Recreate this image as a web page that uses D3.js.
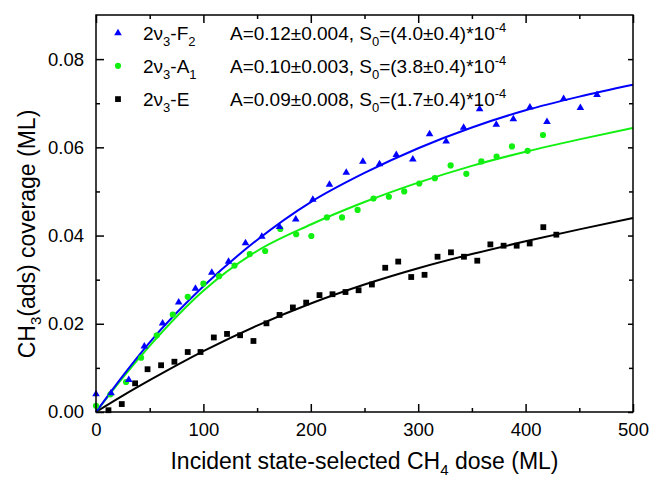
<!DOCTYPE html>
<html>
<head>
<meta charset="utf-8">
<script src="https://cdn.jsdelivr.net/npm/d3@7"></script>
<style>
  body { margin: 0; background: #fff; }
  svg { font-family: "Liberation Sans", Arial, sans-serif; }
</style>
</head>
<body>
<svg id="chart"></svg>
<script>
// Measured data: dose (ML) and CH3 coverage (ML) for each vibrational state
const f2Dose = [0, 14, 30.5, 45, 62, 77, 92.6, 107.8, 123.4, 139.2, 154.4, 170.9, 186, 201.9, 217.4, 233, 248.5, 264, 279.6, 295, 310.6, 326, 342.3, 357.2, 372.7, 388.6, 404, 419.9, 435.4, 451, 466.5];
const f2Cov = [0.0042, 0.0044, 0.0074, 0.015, 0.0202, 0.025, 0.0281, 0.0317, 0.0342, 0.0384, 0.0399, 0.0421, 0.0438, 0.0483, 0.0517, 0.0544, 0.0569, 0.0563, 0.0584, 0.0574, 0.0631, 0.0615, 0.0646, 0.0688, 0.0653, 0.0665, 0.0692, 0.0659, 0.0711, 0.0691, 0.072];

const a1Dose = [0, 13.4, 28, 42, 56.6, 71.5, 85.4, 100, 114.6, 129, 143.2, 157.5, 171.6, 186.4, 200.5, 215, 229.1, 243.6, 258.4, 272.7, 287, 301, 315.5, 330.2, 344.8, 358.8, 373, 387.3, 401.9, 416.2];
const a1Cov = [0.0014, 0.004, 0.0068, 0.0123, 0.0174, 0.0221, 0.0261, 0.0291, 0.0308, 0.0332, 0.0358, 0.0365, 0.0415, 0.0403, 0.0399, 0.0441, 0.0441, 0.0458, 0.0484, 0.0488, 0.05, 0.0518, 0.053, 0.0559, 0.054, 0.0568, 0.0579, 0.0602, 0.0592, 0.0628];

const eDose = [11.6, 24, 36.4, 48, 60.6, 73, 85.4, 97.3, 109.7, 122, 134.2, 146.6, 158.7, 170.9, 183.3, 195.7, 208.1, 220.2, 232.3, 244.5, 256.9, 269.3, 281.4, 293.5, 305.9, 318, 330.5, 342.6, 355, 367.2, 379.5, 391.7, 403.8, 416.5, 428.6];
const eCov = [0.0004, 0.0018, 0.0065, 0.0097, 0.0106, 0.0114, 0.0136, 0.0136, 0.0169, 0.0177, 0.0174, 0.0161, 0.0201, 0.022, 0.0237, 0.0248, 0.0265, 0.0267, 0.0272, 0.0276, 0.0289, 0.0327, 0.0341, 0.0306, 0.0311, 0.0352, 0.0362, 0.0352, 0.0343, 0.038, 0.0377, 0.0377, 0.0382, 0.0419, 0.0402];

// Fit curves
const fitDose = [0, 25, 50, 100, 150, 200, 250, 300, 350, 400, 450, 500];
const f2Fit = [0, 0.0082, 0.0158, 0.0285, 0.039, 0.0476, 0.0542, 0.0598, 0.0645, 0.0684, 0.0715, 0.0742];
const a1Fit = [0, 0.0078, 0.015, 0.0275, 0.0365, 0.0425, 0.0476, 0.052, 0.0558, 0.059, 0.0618, 0.0644];
const eFit = [0, 0.0037, 0.0072, 0.0138, 0.0196, 0.0246, 0.0289, 0.0326, 0.0358, 0.0387, 0.0414, 0.044];

// Axis ticks
const xMajor = [0, 100, 200, 300, 400, 500];
const xMinor = [50, 150, 250, 350, 450];
const yMajor = [0, 0.02, 0.04, 0.06, 0.08];
const yMinor = [0.01, 0.03, 0.05, 0.07];

const width = 651;
const height = 479;
const margin = { top: 15, right: 18, bottom: 67, left: 96 };
const w = width - margin.left - margin.right;
const h = height - margin.top - margin.bottom;

const green = "#11f011";

const svg = d3.select("#chart").attr("width", width).attr("height", height);
const g = svg.append("g").attr("transform", `translate(${margin.left},${margin.top})`);

const x = d3.scaleLinear().domain([0, 500]).range([0, w]);
const y = d3.scaleLinear().domain([0, 0.09]).range([h, 0]);

// Axes: ticks point inwards on all four sides
function styleAxis(sel) {
  sel.select(".domain").remove();
  sel.selectAll(".tick line").attr("stroke", "#000").attr("stroke-width", 1.5);
  sel.selectAll(".tick text").attr("font-size", 18.5).attr("fill", "#000")
    .attr("font-family", '"Liberation Sans", Arial, sans-serif');
}

g.append("g").attr("transform", `translate(0,${h})`)
  .call(d3.axisBottom(x).tickValues(xMajor).tickSize(-8).tickPadding(11).tickFormat(d3.format("d")))
  .call(styleAxis);
g.append("g").attr("transform", `translate(0,${h})`)
  .call(d3.axisBottom(x).tickValues(xMinor).tickSize(-4).tickFormat(""))
  .call(styleAxis);
g.append("g")
  .call(d3.axisTop(x).tickValues(xMajor).tickSize(-8).tickFormat(""))
  .call(styleAxis);
g.append("g")
  .call(d3.axisTop(x).tickValues(xMinor).tickSize(-4).tickFormat(""))
  .call(styleAxis);

g.append("g")
  .call(d3.axisLeft(y).tickValues(yMajor).tickSize(-8).tickPadding(12).tickFormat(d3.format(".2f")))
  .call(styleAxis);
g.append("g")
  .call(d3.axisLeft(y).tickValues(yMinor).tickSize(-4).tickFormat(""))
  .call(styleAxis);
g.append("g").attr("transform", `translate(${w},0)`)
  .call(d3.axisRight(y).tickValues(yMajor).tickSize(-5).tickFormat(""))
  .call(styleAxis);
g.append("g").attr("transform", `translate(${w},0)`)
  .call(d3.axisRight(y).tickValues(yMinor).tickSize(-4).tickFormat(""))
  .call(styleAxis);

// Fit lines
const line = d3.line()
  .x((d) => x(d[0]))
  .y((d) => y(d[1]))
  .curve(d3.curveMonotoneX);

const fits = [
  { vals: eFit, color: "#000000" },
  { vals: a1Fit, color: green },
  { vals: f2Fit, color: "#0000ff" },
];
fits.forEach((f) => {
  g.append("path")
    .attr("d", line(fitDose.map((d, i) => [d, f.vals[i]])))
    .attr("fill", "none")
    .attr("stroke", f.color)
    .attr("stroke-width", 2);
});

// Markers
const tri = "M0,-3.8L3.8,2.7L-3.8,2.7Z";
const sq = "M-2.9,-2.9H2.9V2.9H-2.9Z";

function drawSquares(xs, ys) {
  g.append("g").selectAll("path")
    .data(xs.map((d, i) => [d, ys[i]]))
    .enter().append("path")
    .attr("d", sq)
    .attr("transform", (d) => `translate(${x(d[0])},${y(d[1])})`)
    .attr("fill", "#000");
}
function drawCircles(xs, ys) {
  g.append("g").selectAll("circle")
    .data(xs.map((d, i) => [d, ys[i]]))
    .enter().append("circle")
    .attr("cx", (d) => x(d[0]))
    .attr("cy", (d) => y(d[1]))
    .attr("r", 3.1)
    .attr("fill", green);
}
function drawTriangles(xs, ys) {
  g.append("g").selectAll("path")
    .data(xs.map((d, i) => [d, ys[i]]))
    .enter().append("path")
    .attr("d", tri)
    .attr("transform", (d) => `translate(${x(d[0])},${y(d[1])})`)
    .attr("fill", "#0000ff");
}
drawSquares(eDose, eCov);
drawCircles(a1Dose, a1Cov);
drawTriangles(f2Dose, f2Cov);

// Frame
g.append("rect")
  .attr("width", w).attr("height", h)
  .attr("fill", "none").attr("stroke", "#000").attr("stroke-width", 1.5);

// Legend
const legend = [
  { state: "F", sub: "2", A: "0.12±0.004", S: "(4.0±0.4)", kind: "tri" },
  { state: "A", sub: "1", A: "0.10±0.003", S: "(3.8±0.4)", kind: "circ" },
  { state: "E", sub: "", A: "0.09±0.008", S: "(1.7±0.4)", kind: "sq" },
];
const lg = svg.append("g").attr("font-size", 19);
legend.forEach((d, i) => {
  const cy = 32.5 + i * 33.3;
  const base = cy + 7;
  if (d.kind === "tri") lg.append("path").attr("d", tri).attr("transform", `translate(118,${cy})`).attr("fill", "#0000ff");
  if (d.kind === "circ") lg.append("circle").attr("cx", 118).attr("cy", cy).attr("r", 3.1).attr("fill", green);
  if (d.kind === "sq") lg.append("path").attr("d", sq).attr("transform", `translate(118,${cy})`).attr("fill", "#000");

  const t1 = lg.append("text").attr("x", 143).attr("y", base);
  t1.append("tspan").text("2ν");
  t1.append("tspan").attr("dy", 6).attr("font-size", 13).text("3");
  t1.append("tspan").attr("dy", -6).text("-" + d.state);
  if (d.sub) t1.append("tspan").attr("dy", 6).attr("font-size", 13).text(d.sub);

  const t2 = lg.append("text").attr("x", 230).attr("y", base);
  t2.append("tspan").text(`A=${d.A}, S`);
  t2.append("tspan").attr("dy", 6).attr("font-size", 13).text("0");
  t2.append("tspan").attr("dy", -6).text(`=${d.S}*10`);
  t2.append("tspan").attr("dy", -8).attr("font-size", 13).text("-4");
});

// Axis titles
const xt = svg.append("text")
  .attr("x", margin.left + w / 2).attr("y", 469)
  .attr("text-anchor", "middle").attr("font-size", 23);
xt.append("tspan").text("Incident state-selected CH");
xt.append("tspan").attr("dy", 6).attr("font-size", 15).text("4");
xt.append("tspan").attr("dy", -6).text(" dose (ML)");

const yt = svg.append("text")
  .attr("transform", `translate(35,234) rotate(-90)`)
  .attr("text-anchor", "middle").attr("font-size", 23);
yt.append("tspan").text("CH");
yt.append("tspan").attr("dy", 6).attr("font-size", 15).text("3");
yt.append("tspan").attr("dy", -6).text("(ads) coverage (ML)");
</script>
</body>
</html>
